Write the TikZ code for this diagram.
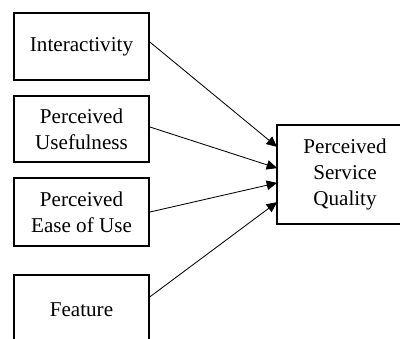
\documentclass[tikz,border=0pt]{standalone}
\usepackage{fontspec}
\setmainfont{Liberation Serif}
\usetikzlibrary{arrows.meta}

\tikzset{
  factor/.style={draw, line width=1.3pt, minimum width=3.375cm, align=center,
    font=\fontsize{15}{18.5}\selectfont, inner sep=0pt},
  frame/.style={line width=1.3pt},
  link/.style={line width=0.6pt, -{Triangle[length=2.6mm,width=2.4mm]}}
}

\begin{document}
\begin{tikzpicture}[x=0.025cm,y=-0.025cm]
      \useasboundingbox (0,0) rectangle (400,338);
      \coordinate (rim) at (399.5,0);
      \node[factor, minimum height=1.675cm] (inter) at (81.5,46.5) {Interactivity};
      \node[factor, minimum height=1.65cm] (useful) at (81.5,129) {Perceived\\Usefulness};
      \node[factor, minimum height=1.7cm] (ease) at (81.5,212) {Perceived\\Ease of Use};
      \node[factor, minimum height=1.75cm] (feat) at (81.5,310) {Feature};
      \node[factor, draw=none, minimum width=3.35cm, minimum height=2.425cm] (psq) at (345,174.5) {Perceived\\Service\\Quality};
      % right side of the box runs off the page
      \draw [frame] (psq.north west -| rim) -- (psq.north west) -- (psq.south west) -- (psq.south west -| rim);
      \draw [link] ([yshift=0.11cm]inter.east) -- ([yshift=0.69cm]psq.west);
      \draw [link] ([yshift=0.05cm]useful.east) -- ([yshift=0.16cm]psq.west);
      \draw [link] (ease.east) -- ([yshift=-0.21cm]psq.west);
      \draw [link] ([yshift=0.33cm]feat.east) -- ([yshift=-0.69cm]psq.west);
    \end{tikzpicture}
\end{document}
